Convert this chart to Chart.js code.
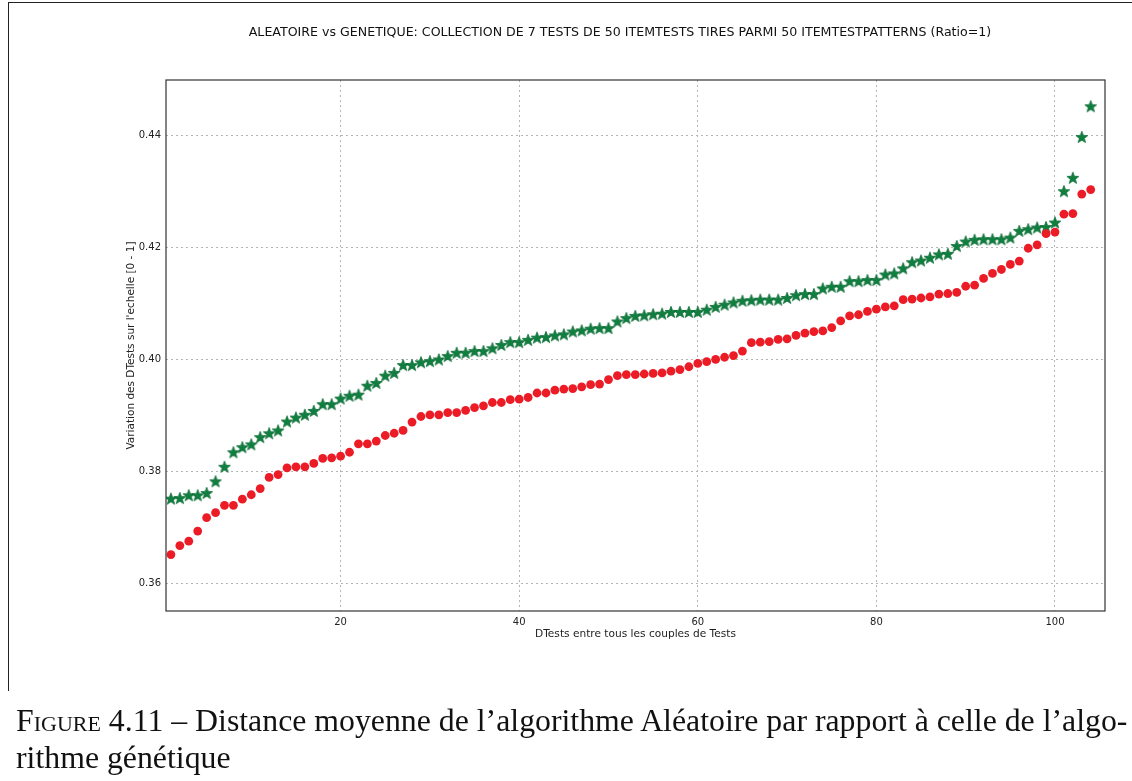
<!DOCTYPE html>
<html><head><meta charset="utf-8">
<script src="https://cdn.jsdelivr.net/npm/chart.js@4.4.0/dist/chart.umd.min.js"></script>
<style>
html,body{margin:0;padding:0;background:#fff;}
#wrap{position:relative;width:1132px;height:781px;overflow:hidden;background:#fff;}
#frame{position:absolute;left:8px;top:2px;width:1200px;height:688px;border-left:1.5px solid #222;border-top:1.5px solid #222;}
#chart{position:absolute;left:0;top:0;}
#caption{position:absolute;left:16px;top:702px;font-family:"Liberation Serif","DejaVu Serif",serif;font-size:31.8px;line-height:37px;white-space:nowrap;color:#111;}
.sc{font-variant:small-caps;}
</style></head>
<body>
<div id="wrap">
<div id="frame"></div>
<canvas id="chart" width="1132" height="781"></canvas>
<div id="caption"><span class="sc">Figure</span> 4.11 – Distance moyenne de l’algorithme Aléatoire par rapport à celle de l’algo-<br>rithme génétique</div>
</div>
<script>
const chartTitle = "ALEATOIRE vs GENETIQUE: COLLECTION DE 7 TESTS DE 50 ITEMTESTS TIRES PARMI 50 ITEMTESTPATTERNS (Ratio=1)";
const xTitle = "DTests entre tous les couples de Tests";
const yTitle = "Variation des DTests sur l'echelle [0 - 1]";

const testIndex = [1,2,3,4,5,6,7,8,9,10,11,12,13,14,15,16,17,18,19,20,
21,22,23,24,25,26,27,28,29,30,31,32,33,34,35,36,37,38,39,40,
41,42,43,44,45,46,47,48,49,50,51,52,53,54,55,56,57,58,59,60,
61,62,63,64,65,66,67,68,69,70,71,72,73,74,75,76,77,78,79,80,
81,82,83,84,85,86,87,88,89,90,91,92,93,94,95,96,97,98,99,100,
101,102,103,104];

const aleatoire = [0.3651,0.3667,0.3675,0.3693,0.3717,0.3726,0.3739,0.3739,0.3750,0.3758,
0.3769,0.3789,0.3794,0.3806,0.3808,0.3808,0.3814,0.3823,0.3824,0.3827,
0.3834,0.3849,0.3849,0.3854,0.3864,0.3868,0.3873,0.3888,0.3898,0.3901,
0.3901,0.3905,0.3905,0.3909,0.3914,0.3917,0.3923,0.3923,0.3928,0.3929,
0.3932,0.3940,0.3940,0.3945,0.3947,0.3948,0.3951,0.3955,0.3956,0.3964,
0.3971,0.3973,0.3973,0.3974,0.3975,0.3976,0.3979,0.3982,0.3987,0.3993,
0.3996,0.4000,0.4004,0.4007,0.4015,0.4030,0.4031,0.4032,0.4036,0.4037,
0.4043,0.4047,0.4050,0.4051,0.4057,0.4069,0.4078,0.4080,0.4086,0.4090,
0.4094,0.4096,0.4107,0.4108,0.4110,0.4112,0.4117,0.4118,0.4120,0.4131,
0.4133,0.4145,0.4154,0.4161,0.4170,0.4176,0.4199,0.4205,0.4225,0.4228,
0.4260,0.4261,0.4296,0.4304];

const genetique = [0.3751,0.3752,0.3757,0.3757,0.3761,0.3782,0.3808,0.3834,0.3843,0.3848,
0.3861,0.3868,0.3873,0.3889,0.3896,0.3901,0.3908,0.3920,0.3920,0.3930,
0.3935,0.3937,0.3953,0.3958,0.3971,0.3976,0.3990,0.3990,0.3995,0.3997,
0.4000,0.4006,0.4012,0.4012,0.4015,0.4015,0.4020,0.4026,0.4031,0.4031,
0.4035,0.4039,0.4040,0.4043,0.4045,0.4050,0.4052,0.4055,0.4056,0.4056,
0.4068,0.4074,0.4078,0.4079,0.4081,0.4082,0.4085,0.4085,0.4085,0.4085,
0.4089,0.4094,0.4098,0.4102,0.4105,0.4106,0.4107,0.4107,0.4107,0.4110,
0.4115,0.4117,0.4117,0.4127,0.4130,0.4130,0.4140,0.4140,0.4142,0.4142,
0.4152,0.4154,0.4163,0.4174,0.4177,0.4182,0.4188,0.4189,0.4203,0.4211,
0.4214,0.4215,0.4215,0.4215,0.4218,0.4230,0.4233,0.4236,0.4237,0.4245,
0.4301,0.4325,0.4398,0.4453];

const xTicks = [20, 40, 60, 80, 100];
const yTicks = [0.36, 0.38, 0.40, 0.42, 0.44];

const RED = '#ec1c26';
const GREEN = '#0e7f3e';

function makeStar(size, color, stroke){
  const c = document.createElement('canvas');
  c.width = size; c.height = size;
  const g = c.getContext('2d');
  const cx = size/2, cy = size/2 + 0.5, R = size/2 - 0.8, r = R*0.42;
  g.beginPath();
  for (let i=0;i<10;i++){
    const ang = -Math.PI/2 + i*Math.PI/5;
    const rad = (i%2===0)?R:r;
    const px = cx + rad*Math.cos(ang), py = cy + rad*Math.sin(ang);
    if(i===0) g.moveTo(px,py); else g.lineTo(px,py);
  }
  g.closePath();
  g.fillStyle = color; g.fill();
  g.lineWidth = 0.8; g.strokeStyle = stroke; g.stroke();
  return c;
}
const starImg = makeStar(14, GREEN, '#0a6a33');

const toPts = (xs, ys) => xs.map((x,i)=>({x:x, y:ys[i]}));

const framePlugin = {
  id:'frameAndTitle',
  afterDraw(chart){
    const {ctx, chartArea:a} = chart;
    ctx.save();
    ctx.strokeStyle = '#333';
    ctx.lineWidth = 1.2;
    ctx.strokeRect(a.left, a.top, a.right-a.left, a.bottom-a.top);
    ctx.font = '12.6px "DejaVu Sans"';
    ctx.fillStyle = '#111';
    ctx.textAlign = 'center';
    ctx.textBaseline = 'middle';
    ctx.fillText(chartTitle, 620, 33);
    ctx.restore();
  }
};

const gridOpts = {color:'#b5b5b5', lineWidth:1, drawTicks:false};
const tickFont = {family:'DejaVu Sans', size:10};

new Chart(document.getElementById('chart'), {
  type:'scatter',
  data:{
    datasets:[
      {label:'Aleatoire', data:toPts(testIndex, aleatoire), pointStyle:'circle', pointRadius:4.4,
       backgroundColor:RED, borderColor:RED, borderWidth:0, showLine:false},
      {label:'Genetique', data:toPts(testIndex, genetique), pointStyle:starImg,
       backgroundColor:GREEN, borderColor:GREEN, showLine:false}
    ]
  },
  options:{
    responsive:false,
    devicePixelRatio:1,
    animation:false,
    layout:{padding:{top:80, left:0, right:27, bottom:130}},
    plugins:{legend:{display:false}, tooltip:{enabled:false}, title:{display:false}},
    scales:{
      x:{
        type:'linear', min:0.45, max:105.6,
        afterBuildTicks:s=>{ s.ticks = xTicks.map(v=>({value:v})); },
        afterFit:s=>{ s.height = 40; },
        grid:gridOpts,
        border:{display:false, dash:[2,3]},
        ticks:{font:tickFont, color:'#222', padding:5, maxRotation:0, callback:v=>String(v)},
        title:{display:true, text:xTitle, font:{family:'DejaVu Sans', size:10.6}, color:'#222', padding:{top:0,bottom:10.5}}
      },
      y:{
        type:'linear', min:0.355, max:0.45,
        afterBuildTicks:s=>{ s.ticks = yTicks.map(v=>({value:v})); },
        afterFit:s=>{ s.width = 166; },
        grid:gridOpts,
        border:{display:false, dash:[2,3]},
        ticks:{font:tickFont, color:'#222', padding:5, callback:v=>v.toFixed(2)},
        title:{display:true, text:yTitle, font:{family:'DejaVu Sans', size:10.5}, color:'#222', padding:{top:124.5,bottom:0}}
      }
    }
  },
  plugins:[framePlugin]
});
</script>
</body></html>
